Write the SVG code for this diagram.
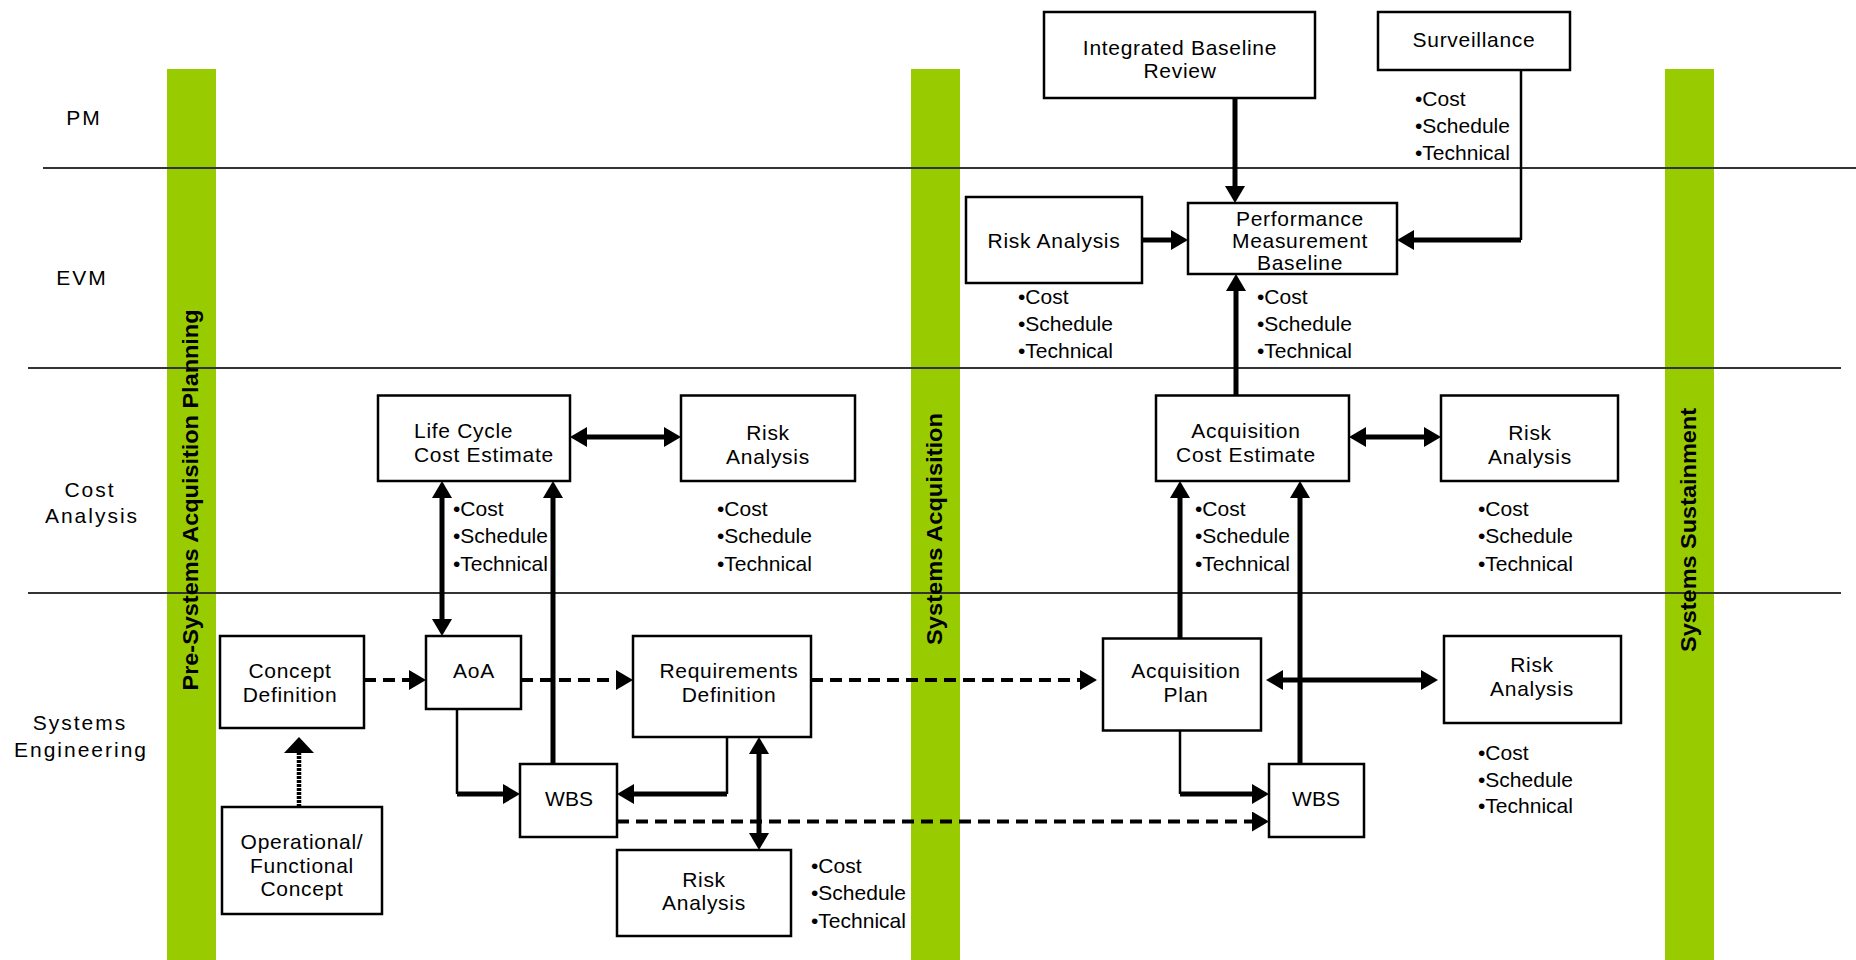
<svg xmlns="http://www.w3.org/2000/svg" width="1856" height="960" viewBox="0 0 1856 960">
<style>
  .bar { fill: #99CC00; }
  .sep { stroke: #333; stroke-width: 2; }
  .barT { font-family: "Liberation Sans", Arial, sans-serif; font-weight: bold; font-size: 22px; text-anchor: middle; fill: #000; }
  .t { font-family: "Liberation Sans", Arial, sans-serif; font-size: 21px; fill: #000; }
  .bx { letter-spacing: 0.7px; }
  .lane { letter-spacing: 2px; }
  .c { text-anchor: middle; }
  .box { fill: #fff; stroke: #000; stroke-width: 2.5; }
  .thick { stroke: #000; stroke-width: 5; fill: none; }
  .thin { stroke: #000; stroke-width: 2.5; fill: none; }
  .dash { stroke: #000; stroke-width: 4; stroke-dasharray: 12 7; fill: none; }
  .dot { stroke: #000; stroke-width: 4.5; stroke-dasharray: 3 1; fill: none; }
</style>
<defs>
  <marker id="ah" markerUnits="userSpaceOnUse" viewBox="0 0 17 20" refX="1" refY="10" markerWidth="17" markerHeight="20" orient="auto-start-reverse">
    <path d="M0,0 L17,10 L0,20 z" fill="#000"/>
  </marker>
  <marker id="ahw" markerUnits="userSpaceOnUse" viewBox="0 0 16 30" refX="1" refY="15" markerWidth="16" markerHeight="30" orient="auto">
    <path d="M0,0 L16,15 L0,30 z" fill="#000"/>
  </marker>
</defs>

<!-- phase bars -->
<g id="phases">
  <rect class="bar" x="167" y="69" width="49" height="891"/>
  <rect class="bar" x="911" y="69" width="49" height="891"/>
  <rect class="bar" x="1665" y="69" width="49" height="891"/>
</g>

<!-- swimlane separators -->
<g id="lanes">
  <line class="sep" x1="43" y1="168" x2="1856" y2="168"/>
  <line class="sep" x1="28" y1="368" x2="1841" y2="368"/>
  <line class="sep" x1="28" y1="593" x2="1841" y2="593"/>
</g>

<!-- phase titles -->
<g id="phase-labels">
  <text class="barT" transform="translate(198,500) rotate(-90)" textLength="381" lengthAdjust="spacingAndGlyphs">Pre-Systems Acquisition Planning</text>
  <text class="barT" transform="translate(942,529) rotate(-90)" textLength="232" lengthAdjust="spacingAndGlyphs">Systems Acquisition</text>
  <text class="barT" transform="translate(1696,530) rotate(-90)" textLength="244" lengthAdjust="spacingAndGlyphs">Systems Sustainment</text>
</g>

<!-- lane labels -->
<g id="lane-labels" class="t c lane">
  <text x="84" y="125">PM</text>
  <text x="82" y="285">EVM</text>
  <text x="90" y="497">Cost</text>
  <text x="92" y="523">Analysis</text>
  <text x="80" y="730">Systems</text>
  <text x="81" y="757">Engineering</text>
</g>

<!-- connectors -->
<g id="connectors">
  <path class="thick" d="M1235,98 V187" marker-end="url(#ah)"/>
  <path class="thin" d="M1521,70 V240"/>
  <path class="thick" d="M1521,240 H1413" marker-end="url(#ah)"/>
  <path class="thick" d="M1142,240 H1172" marker-end="url(#ah)"/>
  <path class="thick" d="M1236,396 V290" marker-end="url(#ah)"/>
  <path class="thick" d="M586,437 H665" marker-start="url(#ah)" marker-end="url(#ah)"/>
  <path class="thick" d="M442,497 V620" marker-start="url(#ah)" marker-end="url(#ah)"/>
  <path class="thick" d="M553,764 V497" marker-end="url(#ah)"/>
  <path class="thin" d="M457,709 V794"/>
  <path class="thick" d="M457,794 H504" marker-end="url(#ah)"/>
  <path class="dash" d="M364,680 H410" marker-end="url(#ah)"/>
  <path class="dash" d="M521,680 H617" marker-end="url(#ah)"/>
  <path class="dash" d="M811,680 H1081" marker-end="url(#ah)"/>
  <path class="dot" d="M299,807 V752" marker-end="url(#ahw)"/>
  <path class="thin" d="M727,737 V794"/>
  <path class="thick" d="M727,794 H633" marker-end="url(#ah)"/>
  <path class="thick" d="M759,753 V834" marker-start="url(#ah)" marker-end="url(#ah)"/>
  <path class="dash" d="M617,821.5 H1253" marker-end="url(#ah)"/>
  <path class="thick" d="M1180,638.5 V497" marker-end="url(#ah)"/>
  <path class="thick" d="M1365,437 H1425" marker-start="url(#ah)" marker-end="url(#ah)"/>
  <path class="thick" d="M1282,680 H1422" marker-start="url(#ah)" marker-end="url(#ah)"/>
  <path class="thick" d="M1300,764 V497" marker-end="url(#ah)"/>
  <path class="thin" d="M1180,730 V794"/>
  <path class="thick" d="M1180,794 H1253" marker-end="url(#ah)"/>
</g>

<!-- PM lane -->
<g id="ibr">
  <rect class="box" x="1044" y="12" width="271" height="86"/>
  <text class="t c bx" x="1180" y="55">Integrated Baseline</text>
  <text class="t c bx" x="1180" y="78">Review</text>
</g>
<g id="surveillance">
  <rect class="box" x="1378" y="12" width="192" height="58"/>
  <text class="t c bx" x="1474" y="47">Surveillance</text>
  <text class="t" x="1415" y="106">•Cost</text>
  <text class="t" x="1415" y="133">•Schedule</text>
  <text class="t" x="1415" y="160">•Technical</text>
</g>

<!-- EVM lane -->
<g id="risk-evm">
  <rect class="box" x="966" y="197" width="176" height="86"/>
  <text class="t c bx" x="1054" y="248">Risk Analysis</text>
  <text class="t" x="1018" y="304">•Cost</text>
  <text class="t" x="1018" y="331">•Schedule</text>
  <text class="t" x="1018" y="358">•Technical</text>
</g>
<g id="pmb">
  <rect class="box" x="1188" y="203" width="209" height="71"/>
  <text class="t c bx" x="1300" y="226">Performance</text>
  <text class="t c bx" x="1300" y="248">Measurement</text>
  <text class="t c bx" x="1300" y="270">Baseline</text>
  <text class="t" x="1257" y="304">•Cost</text>
  <text class="t" x="1257" y="331">•Schedule</text>
  <text class="t" x="1257" y="358">•Technical</text>
</g>

<!-- Cost Analysis lane -->
<g id="lcce">
  <rect class="box" x="378" y="395.5" width="192" height="85.5"/>
  <text class="t bx" x="414" y="438">Life Cycle</text>
  <text class="t bx" x="414" y="462">Cost Estimate</text>
  <text class="t" x="453" y="516">•Cost</text>
  <text class="t" x="453" y="543">•Schedule</text>
  <text class="t" x="453" y="571">•Technical</text>
</g>
<g id="risk-cost-1">
  <rect class="box" x="681" y="395.5" width="174" height="85.5"/>
  <text class="t c bx" x="768" y="440">Risk</text>
  <text class="t c bx" x="768" y="464">Analysis</text>
  <text class="t" x="717" y="516">•Cost</text>
  <text class="t" x="717" y="543">•Schedule</text>
  <text class="t" x="717" y="571">•Technical</text>
</g>
<g id="ace">
  <rect class="box" x="1156" y="395.5" width="193" height="85.5"/>
  <text class="t c bx" x="1246" y="438">Acquisition</text>
  <text class="t c bx" x="1246" y="462">Cost Estimate</text>
  <text class="t" x="1195" y="516">•Cost</text>
  <text class="t" x="1195" y="543">•Schedule</text>
  <text class="t" x="1195" y="571">•Technical</text>
</g>
<g id="risk-cost-2">
  <rect class="box" x="1441" y="395.5" width="177" height="85.5"/>
  <text class="t c bx" x="1530" y="440">Risk</text>
  <text class="t c bx" x="1530" y="464">Analysis</text>
  <text class="t" x="1478" y="516">•Cost</text>
  <text class="t" x="1478" y="543">•Schedule</text>
  <text class="t" x="1478" y="571">•Technical</text>
</g>

<!-- Systems Engineering lane -->
<g id="concept-def">
  <rect class="box" x="220" y="636" width="144" height="92"/>
  <text class="t c bx" x="290" y="678">Concept</text>
  <text class="t c bx" x="290" y="702">Definition</text>
</g>
<g id="aoa">
  <rect class="box" x="426" y="636" width="95" height="73"/>
  <text class="t c bx" x="474" y="678">AoA</text>
</g>
<g id="req-def">
  <rect class="box" x="633" y="636" width="178" height="101"/>
  <text class="t c bx" x="729" y="678">Requirements</text>
  <text class="t c bx" x="729" y="702">Definition</text>
</g>
<g id="acq-plan">
  <rect class="box" x="1103" y="638.5" width="158" height="92"/>
  <text class="t c bx" x="1186" y="678">Acquisition</text>
  <text class="t c bx" x="1186" y="702">Plan</text>
</g>
<g id="risk-se">
  <rect class="box" x="1444" y="636" width="177" height="87"/>
  <text class="t c bx" x="1532" y="672">Risk</text>
  <text class="t c bx" x="1532" y="696">Analysis</text>
  <text class="t" x="1478" y="760">•Cost</text>
  <text class="t" x="1478" y="787">•Schedule</text>
  <text class="t" x="1478" y="813">•Technical</text>
</g>
<g id="wbs-1">
  <rect class="box" x="520" y="764" width="97" height="73"/>
  <text class="t c" x="569" y="806">WBS</text>
</g>
<g id="wbs-2">
  <rect class="box" x="1269" y="764" width="95" height="73"/>
  <text class="t c" x="1316" y="806">WBS</text>
</g>
<g id="op-func-concept">
  <rect class="box" x="222" y="807" width="160" height="107"/>
  <text class="t c bx" x="302" y="849">Operational/</text>
  <text class="t c bx" x="302" y="873">Functional</text>
  <text class="t c bx" x="302" y="896">Concept</text>
</g>
<g id="risk-req">
  <rect class="box" x="617" y="850" width="174" height="86"/>
  <text class="t c bx" x="704" y="887">Risk</text>
  <text class="t c bx" x="704" y="910">Analysis</text>
  <text class="t" x="811" y="873">•Cost</text>
  <text class="t" x="811" y="900">•Schedule</text>
  <text class="t" x="811" y="928">•Technical</text>
</g>
</svg>
